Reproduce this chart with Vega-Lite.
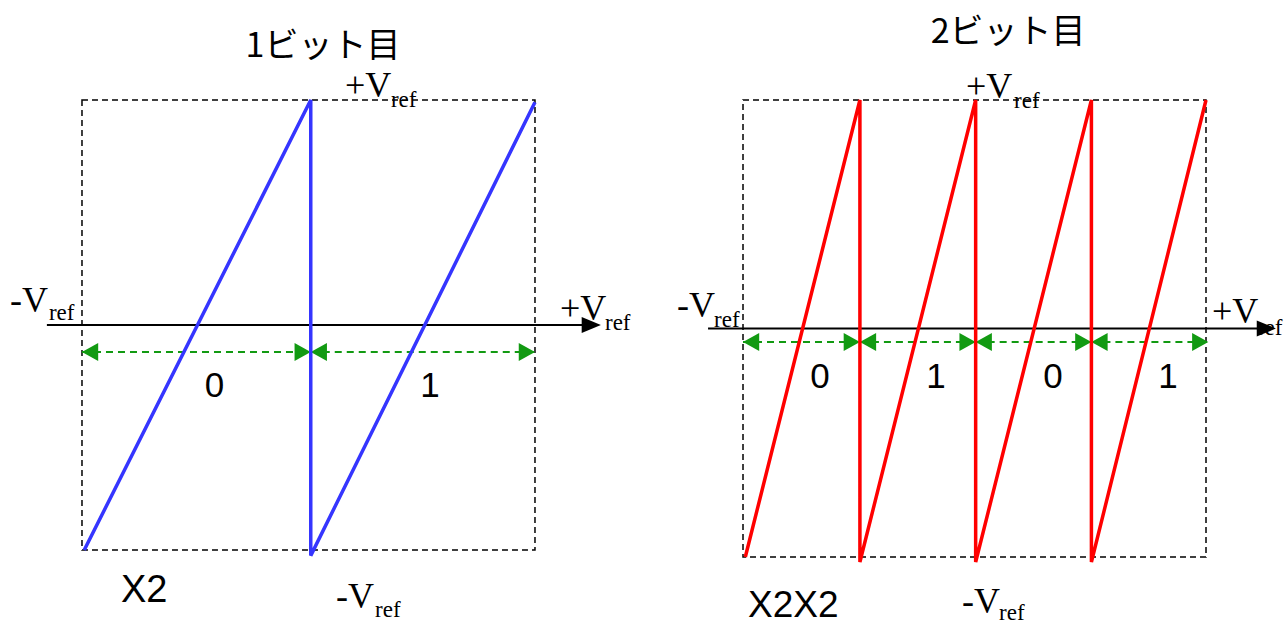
{
  "$schema": "https://vega.github.io/schema/vega-lite/v6.json",
  "width": 1284,
  "height": 626,
  "autosize": "none",
  "padding": 0,
  "background": "white",
  "config": {"view": {"stroke": null}},
  "datasets": {
    "boxL": [{"x": -1, "x2": 1, "y": -1, "y2": 1}],
    "axisL": [{"x": -1.155, "x2": 1.25, "y": 0}],
    "axisTipL": [{"x": 1.291, "y": 0}],
    "spanL": [
      {"x": -1, "x2": 0.01, "y": -0.12},
      {"x": 0.01, "x2": 1.0, "y": -0.12}
    ],
    "headL": [
      {"x": -1, "y": -0.12, "dir": "left"},
      {"x": 0.01, "y": -0.12, "dir": "right"},
      {"x": 0.01, "y": -0.12, "dir": "left"},
      {"x": 1.0, "y": -0.12, "dir": "right"}
    ],
    "curveL": [
      {"i": 0, "x": -0.99, "y": -1.0},
      {"i": 1, "x": 0.01, "y": 1.0},
      {"i": 2, "x": 0.01, "y": -1.025},
      {"i": 3, "x": 1.0, "y": 0.99}
    ],
    "textL": [
      {"role": "title", "text": "1ビット目", "x": 0.064, "y": 1.191},
      {"role": "V", "text": "+V", "x": 0.161, "y": 1.013},
      {"role": "sub", "text": "ref", "x": 0.364, "y": 0.969},
      {"role": "V", "text": "-V", "x": -1.318, "y": 0.058},
      {"role": "sub", "text": "ref", "x": -1.146, "y": 0.022},
      {"role": "V", "text": "+V", "x": 1.11, "y": 0.022},
      {"role": "sub", "text": "ref", "x": 1.309, "y": -0.022},
      {"role": "V", "text": "-V", "x": 0.121, "y": -1.258},
      {"role": "sub", "text": "ref", "x": 0.294, "y": -1.298},
      {"role": "digit", "text": "0", "x": -0.415, "y": -0.32},
      {"role": "digit", "text": "1", "x": 0.536, "y": -0.32},
      {"role": "gain", "text": "X2", "x": -0.828, "y": -1.231}
    ],
    "boxR": [{"x": -1, "x2": 1, "y": -1, "y2": 1}],
    "axisR": [{"x": -1.151, "x2": 1.26, "y": 0}],
    "axisTipR": [{"x": 1.302, "y": 0}],
    "spanR": [
      {"x": -1, "x2": -0.495, "y": -0.059},
      {"x": -0.495, "x2": 0.005, "y": -0.059},
      {"x": 0.005, "x2": 0.505, "y": -0.059},
      {"x": 0.505, "x2": 1.01, "y": -0.059}
    ],
    "headR": [
      {"x": -1, "y": -0.059, "dir": "left"},
      {"x": -0.495, "y": -0.059, "dir": "right"},
      {"x": -0.495, "y": -0.059, "dir": "left"},
      {"x": 0.005, "y": -0.059, "dir": "right"},
      {"x": 0.005, "y": -0.059, "dir": "left"},
      {"x": 0.505, "y": -0.059, "dir": "right"},
      {"x": 0.505, "y": -0.059, "dir": "left"},
      {"x": 1.01, "y": -0.059, "dir": "right"}
    ],
    "curveR": [
      {"i": 0, "x": -0.99, "y": -1.0},
      {"i": 1, "x": -0.495, "y": 1.0},
      {"i": 2, "x": -0.495, "y": -1.022},
      {"i": 3, "x": 0.005, "y": 1.0},
      {"i": 4, "x": 0.005, "y": -1.022},
      {"i": 5, "x": 0.505, "y": 1.0},
      {"i": 6, "x": 0.505, "y": -1.022},
      {"i": 7, "x": 1.0, "y": 1.0}
    ],
    "textR": [
      {"role": "title", "text": "2ビット目", "x": 0.145, "y": 1.249},
      {"role": "V", "text": "+V", "x": -0.037, "y": 1.009},
      {"role": "sub", "text": "ref", "x": 0.171, "y": 0.965},
      {"role": "V", "text": "-V", "x": -1.285, "y": 0.05},
      {"role": "sub", "text": "ref", "x": -1.125, "y": 0.007},
      {"role": "V", "text": "+V", "x": 1.026, "y": 0.024},
      {"role": "sub", "text": "ref", "x": 1.22, "y": -0.028},
      {"role": "V", "text": "-V", "x": -0.054, "y": -1.245},
      {"role": "sub", "text": "ref", "x": 0.106, "y": -1.2757},
      {"role": "digit", "text": "0", "x": -0.667, "y": -0.26},
      {"role": "digit", "text": "1", "x": -0.166, "y": -0.26},
      {"role": "digit", "text": "0", "x": 0.339, "y": -0.26},
      {"role": "digit", "text": "1", "x": 0.836, "y": -0.26},
      {"role": "gain", "text": "X2X2", "x": -0.978, "y": -1.2626}
    ]
  },
  "layer": [
    {
      "encoding": {
        "x": {"field": "x", "type": "quantitative", "scale": {"domain": [-1.362, 4.307], "nice": false, "zero": false}, "axis": null},
        "y": {"field": "y", "type": "quantitative", "scale": {"domain": [-1.3378, 1.4444], "nice": false, "zero": false}, "axis": null}
      },
      "layer": [
        {"data": {"name": "boxL"}, "mark": {"type": "rect", "filled": false, "stroke": "black", "strokeWidth": 1.5, "strokeDash": [6, 4]}, "encoding": {"x2": {"field": "x2"}, "y2": {"field": "y2"}}},
        {"data": {"name": "axisL"}, "mark": {"type": "rule", "color": "black", "strokeWidth": 2}, "encoding": {"x2": {"field": "x2"}}},
        {"data": {"name": "axisTipL"}, "mark": {"type": "point", "filled": true, "color": "black", "opacity": 1, "size": 256, "shape": "M0,0L-2.4,-1L-2.4,1Z"}},
        {"data": {"name": "spanL"}, "mark": {"type": "rule", "color": "#129a12", "strokeWidth": 2, "strokeDash": [7, 5]}, "encoding": {"x2": {"field": "x2"}}},
        {"data": {"name": "headL"}, "mark": {"type": "point", "filled": true, "color": "#129a12", "opacity": 1, "size": 324},
          "encoding": {"shape": {"field": "dir", "type": "nominal", "scale": {"domain": ["left", "right"], "range": ["M0,0L1.8,-1L1.8,1Z", "M0,0L-1.8,-1L-1.8,1Z"]}, "legend": null}}},
        {"data": {"name": "curveL"}, "mark": {"type": "line", "color": "#3535ff", "strokeWidth": 3.5, "strokeJoin": "miter", "strokeCap": "butt"}, "encoding": {"order": {"field": "i", "type": "quantitative"}}},
        {"data": {"name": "textL"}, "transform": [{"filter": "datum.role === 'title'"}], "mark": {"type": "text", "font": "Noto Sans CJK JP", "fontSize": 34, "align": "center", "baseline": "alphabetic", "color": "black"}, "encoding": {"text": {"field": "text"}}},
        {"data": {"name": "textL"}, "transform": [{"filter": "datum.role === 'V'"}], "mark": {"type": "text", "font": "Liberation Serif", "fontSize": 36, "align": "left", "baseline": "alphabetic", "color": "black"}, "encoding": {"text": {"field": "text"}}},
        {"data": {"name": "textL"}, "transform": [{"filter": "datum.role === 'sub'"}], "mark": {"type": "text", "font": "Liberation Serif", "fontSize": 23, "align": "left", "baseline": "alphabetic", "color": "black"}, "encoding": {"text": {"field": "text"}}},
        {"data": {"name": "textL"}, "transform": [{"filter": "datum.role === 'digit'"}], "mark": {"type": "text", "font": "Liberation Sans", "fontSize": 35, "align": "center", "baseline": "alphabetic", "color": "black"}, "encoding": {"text": {"field": "text"}}},
        {"data": {"name": "textL"}, "transform": [{"filter": "datum.role === 'gain'"}], "mark": {"type": "text", "font": "Liberation Sans", "fontSize": 38, "align": "left", "baseline": "alphabetic", "color": "black"}, "encoding": {"text": {"field": "text"}}}
      ]
    },
    {
      "encoding": {
        "x": {"field": "x", "type": "quantitative", "scale": {"domain": [-4.2095, 1.3369], "nice": false, "zero": false}, "axis": null},
        "y": {"field": "y", "type": "quantitative", "scale": {"domain": [-1.302, 1.4376], "nice": false, "zero": false}, "axis": null}
      },
      "layer": [
        {"data": {"name": "boxR"}, "mark": {"type": "rect", "filled": false, "stroke": "black", "strokeWidth": 1.5, "strokeDash": [6, 4]}, "encoding": {"x2": {"field": "x2"}, "y2": {"field": "y2"}}},
        {"data": {"name": "axisR"}, "mark": {"type": "rule", "color": "black", "strokeWidth": 2}, "encoding": {"x2": {"field": "x2"}}},
        {"data": {"name": "axisTipR"}, "mark": {"type": "point", "filled": true, "color": "black", "opacity": 1, "size": 256, "shape": "M0,0L-2.4,-1L-2.4,1Z"}},
        {"data": {"name": "spanR"}, "mark": {"type": "rule", "color": "#129a12", "strokeWidth": 2, "strokeDash": [7, 5]}, "encoding": {"x2": {"field": "x2"}}},
        {"data": {"name": "headR"}, "mark": {"type": "point", "filled": true, "color": "#129a12", "opacity": 1, "size": 324},
          "encoding": {"shape": {"field": "dir", "type": "nominal", "scale": {"domain": ["left", "right"], "range": ["M0,0L1.8,-1L1.8,1Z", "M0,0L-1.8,-1L-1.8,1Z"]}, "legend": null}}},
        {"data": {"name": "curveR"}, "mark": {"type": "line", "color": "#ff0000", "strokeWidth": 3.5, "strokeJoin": "miter", "strokeCap": "butt"}, "encoding": {"order": {"field": "i", "type": "quantitative"}}},
        {"data": {"name": "textR"}, "transform": [{"filter": "datum.role === 'title'"}], "mark": {"type": "text", "font": "Noto Sans CJK JP", "fontSize": 34, "align": "center", "baseline": "alphabetic", "color": "black"}, "encoding": {"text": {"field": "text"}}},
        {"data": {"name": "textR"}, "transform": [{"filter": "datum.role === 'V'"}], "mark": {"type": "text", "font": "Liberation Serif", "fontSize": 36, "align": "left", "baseline": "alphabetic", "color": "black"}, "encoding": {"text": {"field": "text"}}},
        {"data": {"name": "textR"}, "transform": [{"filter": "datum.role === 'sub'"}], "mark": {"type": "text", "font": "Liberation Serif", "fontSize": 23, "align": "left", "baseline": "alphabetic", "color": "black"}, "encoding": {"text": {"field": "text"}}},
        {"data": {"name": "textR"}, "transform": [{"filter": "datum.role === 'digit'"}], "mark": {"type": "text", "font": "Liberation Sans", "fontSize": 35, "align": "center", "baseline": "alphabetic", "color": "black"}, "encoding": {"text": {"field": "text"}}},
        {"data": {"name": "textR"}, "transform": [{"filter": "datum.role === 'gain'"}], "mark": {"type": "text", "font": "Liberation Sans", "fontSize": 37, "align": "left", "baseline": "alphabetic", "color": "black"}, "encoding": {"text": {"field": "text"}}}
      ]
    }
  ],
  "resolve": {"scale": {"x": "independent", "y": "independent"}}
}
